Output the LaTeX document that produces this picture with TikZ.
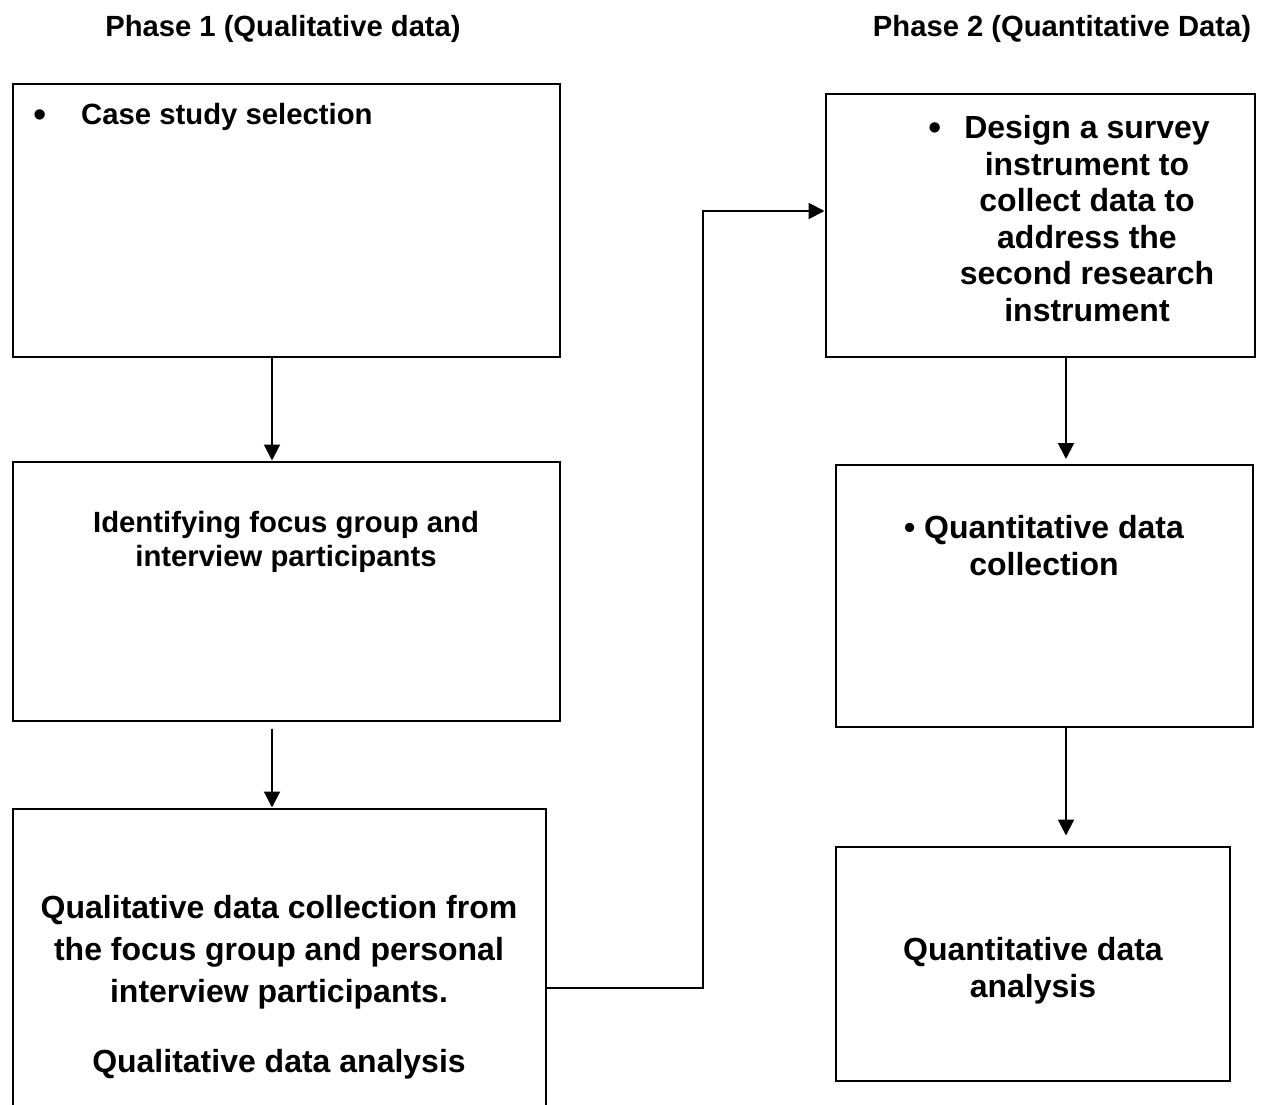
\documentclass[tikz,border=0pt]{standalone}
\usepackage{fontspec}
\setmainfont{Liberation Sans}
\usetikzlibrary{arrows.meta}
\begin{document}
\begin{tikzpicture}[x=1pt,y=-1pt,
  box/.style={draw,line width=2pt,inner sep=0pt},
  arr/.style={line width=2pt,-{Triangle[length=16pt,width=16pt]}},
  ttl/.style={font=\fontsize{29.2}{33}\selectfont\bfseries,inner sep=0pt},
  txtA/.style={font=\fontsize{29.3}{34}\selectfont\bfseries,inner sep=0pt,align=center},
  txtB/.style={font=\fontsize{32}{37}\selectfont\bfseries,inner sep=0pt,align=center},
  bul/.style={font=\fontsize{38}{38}\selectfont,inner sep=0pt}
]
\clip (0,0) rectangle (1262,1105);
\fill[white] (0,0) rectangle (1262,1105);

% phase headings
\node[ttl] (t1) at (283,29) {Phase 1 (Qualitative data)};
\node[ttl] (t2) at (1062,29) {Phase 2 (Quantitative Data)};

% phase 1 boxes
\node[box,minimum width=547pt,minimum height=272pt] (A) at (286,220.5) {};
\node[box,minimum width=547pt,minimum height=259pt] (B) at (286,591) {};
\node[box,minimum width=533pt,minimum height=331.5pt] (C) at (279,974.25) {};

% phase 2 boxes
\node[box,minimum width=429pt,minimum height=262pt] (D) at (1040,225.5) {};
\node[box,minimum width=417pt,minimum height=262pt] (E) at (1044,595.5) {};
\node[box,minimum width=394pt,minimum height=234pt] (F) at (1032.5,963.5) {};

% box texts
\node[bul] (abul) at (40,119) {•};
\node[txtA,anchor=west] (atxt) at (81,117) {Case study selection};
\node[txtA] (btxt) at (286,542) {Identifying focus group and\\interview participants};
\node[txtB,font=\fontsize{32}{42}\selectfont\bfseries] (ctxt) at (279,952)
  {Qualitative data collection from\\the focus group and personal\\interview participants.};
\node[txtB] (ctxt2) at (279,1064) {Qualitative data analysis};
\node[bul] (dbul) at (935,132) {•};
\node[txtB,font=\fontsize{32}{36.6}\selectfont\bfseries] (dtxt) at (1087,218.5)
  {Design a survey\\instrument to\\collect data to\\address the\\second research\\instrument};
\node[txtB] (etxt) at (1044,546) {• Quantitative data\\collection};
\node[txtB] (ftxt) at (1033,970.5) {Quantitative data\\analysis};

% connectors
\coordinate (jog) at (703,211);
\draw[arr] ([xshift=-14pt]A.south) -- ([xshift=-14pt]B.north);
\draw[arr] ([xshift=-14pt,yshift=-7pt]B.south) -- ([xshift=-7pt]C.north);
\draw[arr] ([yshift=-13.75pt]C.east) -| (jog) -- ([yshift=14.5pt]D.west);
\draw[arr] ([xshift=26pt]D.south) -- ([xshift=22pt,yshift=4.5pt]E.north);
\draw[arr] ([xshift=22pt]E.south) -- ([xshift=33.5pt,yshift=10pt]F.north);
\end{tikzpicture}
\end{document}
